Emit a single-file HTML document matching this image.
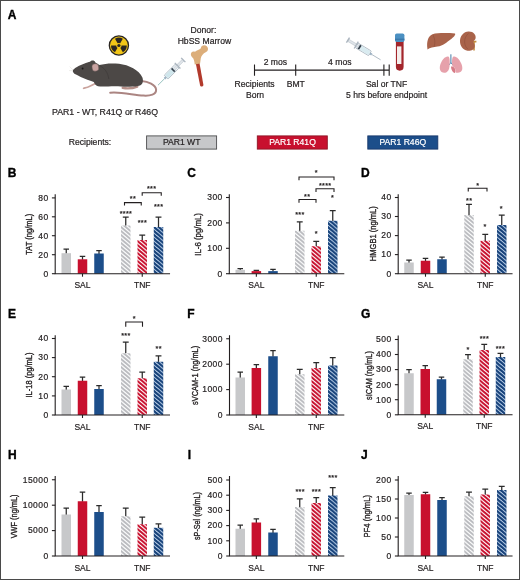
<!DOCTYPE html>
<html lang="en"><head><meta charset="utf-8"><title>Figure</title>
<style>html,body{margin:0;padding:0;background:#fff}svg{display:block;font-family:"Liberation Sans",Arial,Helvetica,sans-serif}</style>
</head><body>
<svg width="520" height="580" viewBox="0 0 520 580">
<defs>
<pattern id="hg" patternUnits="userSpaceOnUse" width="4.7" height="4.0"><rect width="4.7" height="4.0" fill="#ffffff"/><path d="M-4.7 -4.0L9.4 8.0M-4.7 0L4.7 8.0M0 -4.0L9.4 4.0M-4.7 -8.0L9.4 4.0M-4.7 4.0L4.7 12.0" stroke="#babbbf" stroke-width="1.85"/></pattern>
<pattern id="hr" patternUnits="userSpaceOnUse" width="4.7" height="4.0"><rect width="4.7" height="4.0" fill="#ffffff"/><path d="M-4.7 -4.0L9.4 8.0M-4.7 0L4.7 8.0M0 -4.0L9.4 4.0M-4.7 -8.0L9.4 4.0M-4.7 4.0L4.7 12.0" stroke="#c8102e" stroke-width="2.0"/></pattern>
<pattern id="hb" patternUnits="userSpaceOnUse" width="4.7" height="4.0"><rect width="4.7" height="4.0" fill="#d4e6fb"/><path d="M-4.7 -4.0L9.4 8.0M-4.7 0L4.7 8.0M0 -4.0L9.4 4.0M-4.7 -8.0L9.4 4.0M-4.7 4.0L4.7 12.0" stroke="#17427a" stroke-width="2.15"/></pattern>
</defs>
<rect x="0" y="0" width="520" height="580" fill="#fff"/>
<text x="7.70" y="18.80" font-size="12" text-anchor="start" font-weight="bold" fill="#000"  stroke="#000" stroke-width="0.35">A</text>
<g id="radiation">
<circle cx="118.9" cy="45.5" r="9.6" fill="#f2c617" stroke="#2a2622" stroke-width="1.3"/>
<g fill="#2a2622" transform="translate(118.9 45.5)">
<path d="M0 0L3.95 -6.84A7.9 7.9 0 0 0 -3.95 -6.84Z"/>
<path d="M0 0L3.95 -6.84A7.9 7.9 0 0 0 -3.95 -6.84Z" transform="rotate(120)"/>
<path d="M0 0L3.95 -6.84A7.9 7.9 0 0 0 -3.95 -6.84Z" transform="rotate(240)"/>
<circle r="2.6" fill="#f2c617"/><circle r="1.6"/>
</g></g>
<g id="mouse">
<path d="M141.5 81C148 81.5 155.6 84.5 156.1 89.6C156.5 94.6 150 96 143.5 95.6C133 95 121 91.6 110.2 92.7" fill="none" stroke="#ab8582" stroke-width="2" stroke-linecap="round"/>
<path d="M95.5 83.5C92.5 85 90 86.6 87.6 87.3C86 87.8 84.6 88 83.6 88.3" fill="none" stroke="#caa39d" stroke-width="1.7" stroke-linecap="round"/>
<path d="M122.6 87.9C127 88.7 133 88.3 137.4 86.6" fill="none" stroke="#b58f88" stroke-width="2.2" stroke-linecap="round"/>
<path d="M72.9 70.4C74 68.2 79 65.6 84 63.8C86.5 62.9 88.5 62.2 90 61.8C91.5 59.8 94.6 60 95.4 62.4L99.4 65C105 63.4 112 63 119 63.8C129 65 139 70 142.4 77.5C143.6 81 142.8 84.4 140 85.6C135 87.3 126 86.8 118 86.2C110 85.8 103 87.2 98 86.2C95.5 85.6 94.6 83.6 93.8 82C89 80.6 81 77.6 76 74.6C73.6 73.2 72.4 71.8 72.9 70.4Z" fill="#4c4846"/>
<path d="M99.5 65.5C104.5 68 108 72.5 108.8 79" fill="none" stroke="#3f3b3a" stroke-width="0.8"/>
<rect x="92.1" y="63.8" width="6.5" height="7.3" rx="2.6" fill="#c9a3a1" stroke="#6a5a58" stroke-width="0.5" transform="rotate(-8 95.3 67.5)"/>
<circle cx="82.6" cy="68.5" r="0.95" fill="#1a1a1a"/>
<path d="M73 70L69.6 66.6M73 70.6L69 70.6" stroke="#d9d4d0" stroke-width="0.4"/>
</g>
<g id="syringe1" transform="translate(158 85.2) rotate(-44.9)">
<path d="M0 0H9.5" stroke="#6fa9a6" stroke-width="0.7"/>
<rect x="9.3" y="-1.1" width="2.2" height="2.2" fill="#9fb4c6"/>
<rect x="11.4" y="-2.7" width="15.6" height="5.4" rx="0.8" fill="#f1f5f8" stroke="#93a1ad" stroke-width="0.6"/>
<rect x="12" y="-2.1" width="8.6" height="4.2" fill="#cfe6ec"/>
<rect x="20.6" y="-2.3" width="1.8" height="4.6" fill="#34414d"/>
<rect x="22.4" y="-1.2" width="13" height="2.4" fill="#dfe4e9" stroke="#aab4be" stroke-width="0.4"/>
<rect x="27" y="-4" width="1.3" height="8" fill="#aab4be"/>
<rect x="35" y="-3" width="1.4" height="6" fill="#aab4be"/>
</g>
<g id="bone">
<path d="M195.6 62.6L199.2 61.6L203.4 84.8C203.7 86.6 200.6 87.4 200.1 85.6Z" fill="#b23a2c"/>
<path d="M190.9 55C190.4 52.4 192.8 50.6 195 51.8C196.8 50.4 199.4 49.6 200.9 48.3C200.9 45.4 204.6 44.2 206.8 46.2C208.9 48.2 208.1 51.4 205.7 52.2C203.2 53.2 201.5 55.6 200.8 58.2L200.1 63.4L194.7 64.6C194.5 61.2 193.8 58.8 192.4 57.6C191.5 56.8 191.1 56 190.9 55Z" fill="#dcae7a"/>
</g>
<g id="timeline" stroke="#231f20" stroke-width="1.1" fill="none">
<path d="M254.5 70.1H389.2M254.5 64.4V75.7M295.7 64.4V75.7M383.9 64.4V75.7M389.2 64.4V75.7"/>
</g>
<g id="syringe2" transform="translate(380.6 59.8) rotate(-148.9)">
<path d="M0 0H10.5" stroke="#8a9aa8" stroke-width="0.6"/>
<rect x="10.3" y="-1.1" width="2.2" height="2.2" fill="#9fb4c6"/>
<rect x="12.4" y="-2.7" width="15.4" height="5.4" rx="0.8" fill="#f1f5f8" stroke="#93a1ad" stroke-width="0.6"/>
<rect x="13" y="-2.1" width="10.6" height="4.2" fill="#d9ebf0"/>
<rect x="23.6" y="-2.3" width="1.9" height="4.6" fill="#2c3843"/>
<rect x="25.5" y="-1.2" width="12" height="2.4" fill="#dfe4e9" stroke="#aab4be" stroke-width="0.4"/>
<rect x="27.8" y="-4" width="1.3" height="8" fill="#aab4be"/>
<rect x="37.4" y="-3" width="1.4" height="6" fill="#aab4be"/>
</g>
<g id="tube">
<path d="M395.9 41H403.6V66.8A3.85 3.85 0 0 1 395.9 66.8Z" fill="#a3262c"/>
<rect x="397" y="46.4" width="4.4" height="17.6" fill="#f4eeec"/>
<rect x="395" y="33.5" width="9.4" height="8.4" rx="1.7" fill="#4b90c2"/>
<rect x="395" y="38.6" width="9.4" height="1.5" fill="#3a79ab"/>
</g>
<g id="liver">
<path d="M427.4 48.5C426.6 42.5 427.6 36.2 432.5 34.2C438 32.6 448 33 455 33.4C456 34.6 453.5 37.2 450.5 39.4C447 42 443 45.8 437.5 46.6C433.5 47.2 430 47.6 427.4 49.6Z" fill="#a9634a"/>
<path d="M433 35C435 39 435.5 43 434 46.8" stroke="#8f4f3a" stroke-width="0.6" fill="none"/>
</g>
<g id="kidney">
<path d="M472.6 40.8H476.4V42.6H474.8V50.5H473.2V42.6H472.6Z" fill="#c48d3f"/>
<path d="M468.5 31.6C473.5 31.4 476.2 35 475.6 38.2C475.2 40 473.4 40.4 473.4 41.8C473.4 43.2 475 44 474.8 46C474.4 49.6 471 51.2 467.6 50.8C462.6 50.2 459.8 45.6 460 40.8C460.2 36 463.6 31.8 468.5 31.6Z" fill="#a9634a"/>
<path d="M468.5 33.4C466 35.6 464.5 38.5 464.6 42C464.7 45 466 47.6 468 49.2" stroke="#94523c" stroke-width="0.7" fill="none"/>
</g>
<g id="lungs">
<path d="M450.9 54.3V62.5M450.9 62.5L448.8 65.2M450.9 62.5L453 65.2" stroke="#2f6d9c" stroke-width="0.9" fill="none"/>
<path d="M448.2 56.6C449.6 57 449.8 60 449.7 63.5C449.6 67.6 449.2 70.6 446.6 72.2C444 73.6 440.8 72.6 440 69.6C439.2 66 441.2 61.6 443.6 58.8C445 57.2 446.8 56.2 448.2 56.6Z" fill="#e6a1ab"/>
<path d="M453.6 56.6C452.2 57 452 60 452.1 63.5C452.2 65.5 452.3 66.3 453.2 66.8C455 67.6 456 69.8 455.6 72.4C458 73.4 461.4 72.6 462.2 69.6C463 66 460.6 61.6 458.2 58.8C456.8 57.2 455 56.2 453.6 56.6Z" fill="#e6a1ab"/>
<path d="M451 66.6C453.4 66.2 455.6 68.4 455.4 71.2C455.3 72.4 454.8 73 454.2 73C452 71.6 451 69 451 66.6Z" fill="#d77b86"/>
</g>
<g id="atext" font-size="8.6" fill="#231f20" stroke="#231f20" stroke-width="0.2" text-anchor="middle">
<text x="105" y="114.6" textLength="106" lengthAdjust="spacingAndGlyphs">PAR1 - WT, R41Q or R46Q</text>
<text x="203.4" y="33">Donor:</text>
<text x="204.4" y="43.8">HbSS Marrow</text>
<text x="275.4" y="65">2 mos</text>
<text x="339.8" y="65">4 mos</text>
<text x="254.6" y="87.1">Recipients</text>
<text x="255" y="98">Born</text>
<text x="295.8" y="87.1">BMT</text>
<text x="386.6" y="87.1">Sal or TNF</text>
<text x="386.6" y="98.2">5 hrs before endpoint</text>
<text x="90" y="144.6">Recipients:</text>
</g>
<g id="legend" font-size="8.6" text-anchor="middle">
<rect x="146.6" y="135.9" width="70" height="13.2" fill="#c7c8ca" stroke="#4d4d4f" stroke-width="0.9"/>
<text x="181.7" y="145.3" fill="#231f20" stroke="#231f20" stroke-width="0.2">PAR1 WT</text>
<rect x="257.3" y="135.9" width="70" height="13.2" fill="#c8102e" stroke="#8e1525" stroke-width="0.9"/>
<text x="292.5" y="145.3" fill="#ffffff" stroke="#ffffff" stroke-width="0.2">PAR1 R41Q</text>
<rect x="367.8" y="135.9" width="70" height="13.2" fill="#1c4e8a" stroke="#17376a" stroke-width="0.9"/>
<text x="402.8" y="145.3" fill="#ffffff" stroke="#ffffff" stroke-width="0.2">PAR1 R46Q</text>
</g>

<text x="7.70" y="177.00" font-size="12" text-anchor="start" font-weight="bold" fill="#000"  stroke="#000" stroke-width="0.35">B</text>
<path d="M66.25 253.70V249.00M63.50 249.00H69.00" stroke="#2b2b2b" stroke-width="1.25" fill="none"/>
<rect x="61.50" y="253.20" width="9.5" height="20.50" fill="#c7c8ca"/>
<path d="M82.50 259.80V256.30M79.75 256.30H85.25" stroke="#2b2b2b" stroke-width="1.25" fill="none"/>
<rect x="77.75" y="259.30" width="9.5" height="14.40" fill="#c8102e"/>
<path d="M99.00 254.00V250.60M96.25 250.60H101.75" stroke="#2b2b2b" stroke-width="1.25" fill="none"/>
<rect x="94.25" y="253.50" width="9.5" height="20.20" fill="#1c4e8a"/>
<path d="M125.75 226.00V217.00M122.80 217.00H128.70" stroke="#2b2b2b" stroke-width="1.25" fill="none"/>
<rect x="121.00" y="225.50" width="9.5" height="48.20" fill="url(#hg)"/>
<path d="M142.25 240.50V235.00M139.30 235.00H145.20" stroke="#2b2b2b" stroke-width="1.25" fill="none"/>
<rect x="137.50" y="240.00" width="9.5" height="33.70" fill="url(#hr)"/>
<path d="M158.50 227.50V217.00M155.55 217.00H161.45" stroke="#2b2b2b" stroke-width="1.25" fill="none"/>
<rect x="153.75" y="227.00" width="9.5" height="46.70" fill="url(#hb)"/>
<path d="M55.20 194.80V273.70H169.50" stroke="#231f20" stroke-width="1.1" fill="none" stroke-linecap="square"/>
<path d="M51.90 197.90H55.20" stroke="#231f20" stroke-width="1.1"/>
<text x="48.65" y="200.75" font-size="8.5" text-anchor="end" font-weight="normal" fill="#231f20" stroke="#231f20" stroke-width="0.2" letter-spacing="0.45">80</text>
<path d="M51.90 216.80H55.20" stroke="#231f20" stroke-width="1.1"/>
<text x="48.65" y="219.65" font-size="8.5" text-anchor="end" font-weight="normal" fill="#231f20" stroke="#231f20" stroke-width="0.2" letter-spacing="0.45">60</text>
<path d="M51.90 235.70H55.20" stroke="#231f20" stroke-width="1.1"/>
<text x="48.65" y="238.55" font-size="8.5" text-anchor="end" font-weight="normal" fill="#231f20" stroke="#231f20" stroke-width="0.2" letter-spacing="0.45">40</text>
<path d="M51.90 254.70H55.20" stroke="#231f20" stroke-width="1.1"/>
<text x="48.65" y="257.55" font-size="8.5" text-anchor="end" font-weight="normal" fill="#231f20" stroke="#231f20" stroke-width="0.2" letter-spacing="0.45">20</text>
<path d="M51.90 273.70H55.20" stroke="#231f20" stroke-width="1.1"/>
<text x="48.65" y="276.55" font-size="8.5" text-anchor="end" font-weight="normal" fill="#231f20" stroke="#231f20" stroke-width="0.2" letter-spacing="0.45">0</text>
<path d="M82.50 273.70V276.70" stroke="#231f20" stroke-width="1.1"/>
<text x="82.50" y="288.00" font-size="8.5" text-anchor="middle" font-weight="normal" fill="#231f20" stroke="#231f20" stroke-width="0.2" >SAL</text>
<path d="M142.25 273.70V276.70" stroke="#231f20" stroke-width="1.1"/>
<text x="142.25" y="288.00" font-size="8.5" text-anchor="middle" font-weight="normal" fill="#231f20" stroke="#231f20" stroke-width="0.2" >TNF</text>
<text transform="translate(31.70 234.20) rotate(-90)" font-size="9.9" text-anchor="middle" fill="#231f20" textLength="41.0" lengthAdjust="spacingAndGlyphs" stroke="#231f20" stroke-width="0.35">TAT (ng/mL)</text>
<text x="125.95" y="215.80" font-size="7.2" text-anchor="middle" font-weight="bold" fill="#231f20"  stroke="#231f20" stroke-width="0.12" letter-spacing="0.35">****</text>
<text x="142.45" y="225.30" font-size="7.2" text-anchor="middle" font-weight="bold" fill="#231f20"  stroke="#231f20" stroke-width="0.12" letter-spacing="0.35">***</text>
<text x="158.70" y="209.05" font-size="7.2" text-anchor="middle" font-weight="bold" fill="#231f20"  stroke="#231f20" stroke-width="0.12" letter-spacing="0.35">***</text>
<text x="132.95" y="200.80" font-size="7.2" text-anchor="middle" font-weight="bold" fill="#231f20"  stroke="#231f20" stroke-width="0.12" letter-spacing="0.35">**</text>
<text x="151.70" y="190.80" font-size="7.2" text-anchor="middle" font-weight="bold" fill="#231f20"  stroke="#231f20" stroke-width="0.12" letter-spacing="0.35">***</text>
<path d="M124.50 205.60V202.60H141.25V205.60" stroke="#231f20" stroke-width="1.1" fill="none"/>
<path d="M142.20 195.80V192.80H161.25V195.80" stroke="#231f20" stroke-width="1.1" fill="none"/>
<text x="187.20" y="177.00" font-size="12" text-anchor="start" font-weight="bold" fill="#000"  stroke="#000" stroke-width="0.35">C</text>
<path d="M240.25 270.30V268.60M237.50 268.60H243.00" stroke="#2b2b2b" stroke-width="1.25" fill="none"/>
<rect x="235.50" y="269.80" width="9.5" height="3.90" fill="#c7c8ca"/>
<path d="M256.35 271.60V270.40M253.60 270.40H259.10" stroke="#2b2b2b" stroke-width="1.25" fill="none"/>
<rect x="251.60" y="271.10" width="9.5" height="2.60" fill="#c8102e"/>
<path d="M273.00 271.60V269.40M270.25 269.40H275.75" stroke="#2b2b2b" stroke-width="1.25" fill="none"/>
<rect x="268.25" y="271.10" width="9.5" height="2.60" fill="#1c4e8a"/>
<path d="M299.75 231.25V221.75M296.80 221.75H302.70" stroke="#2b2b2b" stroke-width="1.25" fill="none"/>
<rect x="295.00" y="230.75" width="9.5" height="42.95" fill="url(#hg)"/>
<path d="M316.25 246.75V241.25M313.30 241.25H319.20" stroke="#2b2b2b" stroke-width="1.25" fill="none"/>
<rect x="311.50" y="246.25" width="9.5" height="27.45" fill="url(#hr)"/>
<path d="M332.75 221.25V210.50M329.80 210.50H335.70" stroke="#2b2b2b" stroke-width="1.25" fill="none"/>
<rect x="328.00" y="220.75" width="9.5" height="52.95" fill="url(#hb)"/>
<path d="M229.30 194.80V273.70H343.75" stroke="#231f20" stroke-width="1.1" fill="none" stroke-linecap="square"/>
<path d="M226.00 197.50H229.30" stroke="#231f20" stroke-width="1.1"/>
<text x="222.75" y="200.35" font-size="8.5" text-anchor="end" font-weight="normal" fill="#231f20" stroke="#231f20" stroke-width="0.2" letter-spacing="0.45">300</text>
<path d="M226.00 222.90H229.30" stroke="#231f20" stroke-width="1.1"/>
<text x="222.75" y="225.75" font-size="8.5" text-anchor="end" font-weight="normal" fill="#231f20" stroke="#231f20" stroke-width="0.2" letter-spacing="0.45">200</text>
<path d="M226.00 248.30H229.30" stroke="#231f20" stroke-width="1.1"/>
<text x="222.75" y="251.15" font-size="8.5" text-anchor="end" font-weight="normal" fill="#231f20" stroke="#231f20" stroke-width="0.2" letter-spacing="0.45">100</text>
<path d="M226.00 273.70H229.30" stroke="#231f20" stroke-width="1.1"/>
<text x="222.75" y="276.55" font-size="8.5" text-anchor="end" font-weight="normal" fill="#231f20" stroke="#231f20" stroke-width="0.2" letter-spacing="0.45">0</text>
<path d="M256.35 273.70V276.70" stroke="#231f20" stroke-width="1.1"/>
<text x="256.35" y="288.00" font-size="8.5" text-anchor="middle" font-weight="normal" fill="#231f20" stroke="#231f20" stroke-width="0.2" >SAL</text>
<path d="M316.25 273.70V276.70" stroke="#231f20" stroke-width="1.1"/>
<text x="316.25" y="288.00" font-size="8.5" text-anchor="middle" font-weight="normal" fill="#231f20" stroke="#231f20" stroke-width="0.2" >TNF</text>
<text transform="translate(200.70 234.40) rotate(-90)" font-size="9.9" text-anchor="middle" fill="#231f20" textLength="42.5" lengthAdjust="spacingAndGlyphs" stroke="#231f20" stroke-width="0.35">IL-6 (pg/mL)</text>
<text x="316.45" y="175.30" font-size="7.2" text-anchor="middle" font-weight="bold" fill="#231f20"  stroke="#231f20" stroke-width="0.12" letter-spacing="0.35">*</text>
<text x="325.20" y="187.55" font-size="7.2" text-anchor="middle" font-weight="bold" fill="#231f20"  stroke="#231f20" stroke-width="0.12" letter-spacing="0.35">****</text>
<text x="307.20" y="198.55" font-size="7.2" text-anchor="middle" font-weight="bold" fill="#231f20"  stroke="#231f20" stroke-width="0.12" letter-spacing="0.35">**</text>
<text x="332.70" y="200.30" font-size="7.2" text-anchor="middle" font-weight="bold" fill="#231f20"  stroke="#231f20" stroke-width="0.12" letter-spacing="0.35">*</text>
<text x="299.95" y="217.05" font-size="7.2" text-anchor="middle" font-weight="bold" fill="#231f20"  stroke="#231f20" stroke-width="0.12" letter-spacing="0.35">***</text>
<text x="316.45" y="236.30" font-size="7.2" text-anchor="middle" font-weight="bold" fill="#231f20"  stroke="#231f20" stroke-width="0.12" letter-spacing="0.35">*</text>
<path d="M299.00 180.20V177.00H334.00V180.20" stroke="#231f20" stroke-width="1.1" fill="none"/>
<path d="M316.00 191.90V188.75H334.00V191.90" stroke="#231f20" stroke-width="1.1" fill="none"/>
<path d="M299.00 202.70V199.50H316.00V202.70" stroke="#231f20" stroke-width="1.1" fill="none"/>
<text x="360.95" y="177.00" font-size="12" text-anchor="start" font-weight="bold" fill="#000"  stroke="#000" stroke-width="0.35">D</text>
<path d="M409.00 263.00V260.00M406.25 260.00H411.75" stroke="#2b2b2b" stroke-width="1.25" fill="none"/>
<rect x="404.25" y="262.50" width="9.5" height="11.20" fill="#c7c8ca"/>
<path d="M425.50 261.25V258.25M422.75 258.25H428.25" stroke="#2b2b2b" stroke-width="1.25" fill="none"/>
<rect x="420.75" y="260.75" width="9.5" height="12.95" fill="#c8102e"/>
<path d="M442.00 259.75V257.00M439.25 257.00H444.75" stroke="#2b2b2b" stroke-width="1.25" fill="none"/>
<rect x="437.25" y="259.25" width="9.5" height="14.45" fill="#1c4e8a"/>
<path d="M469.00 215.50V204.25M466.05 204.25H471.95" stroke="#2b2b2b" stroke-width="1.25" fill="none"/>
<rect x="464.25" y="215.00" width="9.5" height="58.70" fill="url(#hg)"/>
<path d="M485.25 241.25V234.25M482.30 234.25H488.20" stroke="#2b2b2b" stroke-width="1.25" fill="none"/>
<rect x="480.50" y="240.75" width="9.5" height="32.95" fill="url(#hr)"/>
<path d="M501.75 225.50V215.00M498.80 215.00H504.70" stroke="#2b2b2b" stroke-width="1.25" fill="none"/>
<rect x="497.00" y="225.00" width="9.5" height="48.70" fill="url(#hb)"/>
<path d="M398.20 194.80V273.70H512.00" stroke="#231f20" stroke-width="1.1" fill="none" stroke-linecap="square"/>
<path d="M394.90 197.50H398.20" stroke="#231f20" stroke-width="1.1"/>
<text x="391.65" y="200.35" font-size="8.5" text-anchor="end" font-weight="normal" fill="#231f20" stroke="#231f20" stroke-width="0.2" letter-spacing="0.45">40</text>
<path d="M394.90 216.50H398.20" stroke="#231f20" stroke-width="1.1"/>
<text x="391.65" y="219.35" font-size="8.5" text-anchor="end" font-weight="normal" fill="#231f20" stroke="#231f20" stroke-width="0.2" letter-spacing="0.45">30</text>
<path d="M394.90 235.60H398.20" stroke="#231f20" stroke-width="1.1"/>
<text x="391.65" y="238.45" font-size="8.5" text-anchor="end" font-weight="normal" fill="#231f20" stroke="#231f20" stroke-width="0.2" letter-spacing="0.45">20</text>
<path d="M394.90 254.60H398.20" stroke="#231f20" stroke-width="1.1"/>
<text x="391.65" y="257.45" font-size="8.5" text-anchor="end" font-weight="normal" fill="#231f20" stroke="#231f20" stroke-width="0.2" letter-spacing="0.45">10</text>
<path d="M394.90 273.70H398.20" stroke="#231f20" stroke-width="1.1"/>
<text x="391.65" y="276.55" font-size="8.5" text-anchor="end" font-weight="normal" fill="#231f20" stroke="#231f20" stroke-width="0.2" letter-spacing="0.45">0</text>
<path d="M425.50 273.70V276.70" stroke="#231f20" stroke-width="1.1"/>
<text x="425.50" y="288.00" font-size="8.5" text-anchor="middle" font-weight="normal" fill="#231f20" stroke="#231f20" stroke-width="0.2" >SAL</text>
<path d="M485.25 273.70V276.70" stroke="#231f20" stroke-width="1.1"/>
<text x="485.25" y="288.00" font-size="8.5" text-anchor="middle" font-weight="normal" fill="#231f20" stroke="#231f20" stroke-width="0.2" >TNF</text>
<text transform="translate(375.70 233.75) rotate(-90)" font-size="9.9" text-anchor="middle" fill="#231f20" textLength="55.0" lengthAdjust="spacingAndGlyphs" stroke="#231f20" stroke-width="0.35">HMGB1 (ng/mL)</text>
<text x="477.95" y="187.55" font-size="7.2" text-anchor="middle" font-weight="bold" fill="#231f20"  stroke="#231f20" stroke-width="0.12" letter-spacing="0.35">*</text>
<text x="469.20" y="202.80" font-size="7.2" text-anchor="middle" font-weight="bold" fill="#231f20"  stroke="#231f20" stroke-width="0.12" letter-spacing="0.35">**</text>
<text x="485.20" y="228.80" font-size="7.2" text-anchor="middle" font-weight="bold" fill="#231f20"  stroke="#231f20" stroke-width="0.12" letter-spacing="0.35">*</text>
<text x="501.45" y="210.80" font-size="7.2" text-anchor="middle" font-weight="bold" fill="#231f20"  stroke="#231f20" stroke-width="0.12" letter-spacing="0.35">*</text>
<path d="M468.25 191.60V188.25H487.00V191.60" stroke="#231f20" stroke-width="1.1" fill="none"/>
<text x="7.95" y="318.25" font-size="12" text-anchor="start" font-weight="bold" fill="#000"  stroke="#000" stroke-width="0.35">E</text>
<path d="M66.25 390.00V386.25M63.50 386.25H69.00" stroke="#2b2b2b" stroke-width="1.25" fill="none"/>
<rect x="61.50" y="389.50" width="9.5" height="25.50" fill="#c7c8ca"/>
<path d="M82.50 381.25V377.00M79.75 377.00H85.25" stroke="#2b2b2b" stroke-width="1.25" fill="none"/>
<rect x="77.75" y="380.75" width="9.5" height="34.25" fill="#c8102e"/>
<path d="M99.00 389.50V385.50M96.25 385.50H101.75" stroke="#2b2b2b" stroke-width="1.25" fill="none"/>
<rect x="94.25" y="389.00" width="9.5" height="26.00" fill="#1c4e8a"/>
<path d="M125.75 353.75V342.00M122.80 342.00H128.70" stroke="#2b2b2b" stroke-width="1.25" fill="none"/>
<rect x="121.00" y="353.25" width="9.5" height="61.75" fill="url(#hg)"/>
<path d="M142.25 378.75V372.00M139.30 372.00H145.20" stroke="#2b2b2b" stroke-width="1.25" fill="none"/>
<rect x="137.50" y="378.25" width="9.5" height="36.75" fill="url(#hr)"/>
<path d="M158.50 362.25V355.75M155.55 355.75H161.45" stroke="#2b2b2b" stroke-width="1.25" fill="none"/>
<rect x="153.75" y="361.75" width="9.5" height="53.25" fill="url(#hb)"/>
<path d="M55.20 335.80V415.00H169.50" stroke="#231f20" stroke-width="1.1" fill="none" stroke-linecap="square"/>
<path d="M51.90 338.50H55.20" stroke="#231f20" stroke-width="1.1"/>
<text x="48.65" y="341.35" font-size="8.5" text-anchor="end" font-weight="normal" fill="#231f20" stroke="#231f20" stroke-width="0.2" letter-spacing="0.45">40</text>
<path d="M51.90 357.60H55.20" stroke="#231f20" stroke-width="1.1"/>
<text x="48.65" y="360.45" font-size="8.5" text-anchor="end" font-weight="normal" fill="#231f20" stroke="#231f20" stroke-width="0.2" letter-spacing="0.45">30</text>
<path d="M51.90 376.70H55.20" stroke="#231f20" stroke-width="1.1"/>
<text x="48.65" y="379.55" font-size="8.5" text-anchor="end" font-weight="normal" fill="#231f20" stroke="#231f20" stroke-width="0.2" letter-spacing="0.45">20</text>
<path d="M51.90 395.90H55.20" stroke="#231f20" stroke-width="1.1"/>
<text x="48.65" y="398.75" font-size="8.5" text-anchor="end" font-weight="normal" fill="#231f20" stroke="#231f20" stroke-width="0.2" letter-spacing="0.45">10</text>
<path d="M51.90 415.00H55.20" stroke="#231f20" stroke-width="1.1"/>
<text x="48.65" y="417.85" font-size="8.5" text-anchor="end" font-weight="normal" fill="#231f20" stroke="#231f20" stroke-width="0.2" letter-spacing="0.45">0</text>
<path d="M82.50 415.00V418.00" stroke="#231f20" stroke-width="1.1"/>
<text x="82.50" y="429.60" font-size="8.5" text-anchor="middle" font-weight="normal" fill="#231f20" stroke="#231f20" stroke-width="0.2" >SAL</text>
<path d="M142.25 415.00V418.00" stroke="#231f20" stroke-width="1.1"/>
<text x="142.25" y="429.60" font-size="8.5" text-anchor="middle" font-weight="normal" fill="#231f20" stroke="#231f20" stroke-width="0.2" >TNF</text>
<text transform="translate(31.70 375.00) rotate(-90)" font-size="9.9" text-anchor="middle" fill="#231f20" textLength="45.0" lengthAdjust="spacingAndGlyphs" stroke="#231f20" stroke-width="0.35">IL-18 (pg/mL)</text>
<text x="134.45" y="321.30" font-size="7.2" text-anchor="middle" font-weight="bold" fill="#231f20"  stroke="#231f20" stroke-width="0.12" letter-spacing="0.35">*</text>
<text x="125.95" y="338.30" font-size="7.2" text-anchor="middle" font-weight="bold" fill="#231f20"  stroke="#231f20" stroke-width="0.12" letter-spacing="0.35">***</text>
<text x="158.70" y="351.30" font-size="7.2" text-anchor="middle" font-weight="bold" fill="#231f20"  stroke="#231f20" stroke-width="0.12" letter-spacing="0.35">**</text>
<path d="M125.75 326.80V322.00H142.50V326.80" stroke="#231f20" stroke-width="1.1" fill="none"/>
<text x="187.20" y="318.25" font-size="12" text-anchor="start" font-weight="bold" fill="#000"  stroke="#000" stroke-width="0.35">F</text>
<path d="M240.25 378.00V372.00M237.50 372.00H243.00" stroke="#2b2b2b" stroke-width="1.25" fill="none"/>
<rect x="235.50" y="377.50" width="9.5" height="37.50" fill="#c7c8ca"/>
<path d="M256.35 368.50V364.50M253.60 364.50H259.10" stroke="#2b2b2b" stroke-width="1.25" fill="none"/>
<rect x="251.60" y="368.00" width="9.5" height="47.00" fill="#c8102e"/>
<path d="M273.00 356.75V350.50M270.25 350.50H275.75" stroke="#2b2b2b" stroke-width="1.25" fill="none"/>
<rect x="268.25" y="356.25" width="9.5" height="58.75" fill="#1c4e8a"/>
<path d="M299.75 374.75V369.25M296.80 369.25H302.70" stroke="#2b2b2b" stroke-width="1.25" fill="none"/>
<rect x="295.00" y="374.25" width="9.5" height="40.75" fill="url(#hg)"/>
<path d="M316.25 368.50V362.50M313.30 362.50H319.20" stroke="#2b2b2b" stroke-width="1.25" fill="none"/>
<rect x="311.50" y="368.00" width="9.5" height="47.00" fill="url(#hr)"/>
<path d="M332.75 366.00V357.50M329.80 357.50H335.70" stroke="#2b2b2b" stroke-width="1.25" fill="none"/>
<rect x="328.00" y="365.50" width="9.5" height="49.50" fill="url(#hb)"/>
<path d="M229.50 335.80V415.00H343.75" stroke="#231f20" stroke-width="1.1" fill="none" stroke-linecap="square"/>
<path d="M226.20 338.75H229.50" stroke="#231f20" stroke-width="1.1"/>
<text x="222.95" y="341.60" font-size="8.5" text-anchor="end" font-weight="normal" fill="#231f20" stroke="#231f20" stroke-width="0.2" letter-spacing="0.45">3000</text>
<path d="M226.20 364.20H229.50" stroke="#231f20" stroke-width="1.1"/>
<text x="222.95" y="367.05" font-size="8.5" text-anchor="end" font-weight="normal" fill="#231f20" stroke="#231f20" stroke-width="0.2" letter-spacing="0.45">2000</text>
<path d="M226.20 389.60H229.50" stroke="#231f20" stroke-width="1.1"/>
<text x="222.95" y="392.45" font-size="8.5" text-anchor="end" font-weight="normal" fill="#231f20" stroke="#231f20" stroke-width="0.2" letter-spacing="0.45">1000</text>
<path d="M226.20 415.00H229.50" stroke="#231f20" stroke-width="1.1"/>
<text x="222.95" y="417.85" font-size="8.5" text-anchor="end" font-weight="normal" fill="#231f20" stroke="#231f20" stroke-width="0.2" letter-spacing="0.45">0</text>
<path d="M256.35 415.00V418.00" stroke="#231f20" stroke-width="1.1"/>
<text x="256.35" y="429.60" font-size="8.5" text-anchor="middle" font-weight="normal" fill="#231f20" stroke="#231f20" stroke-width="0.2" >SAL</text>
<path d="M316.25 415.00V418.00" stroke="#231f20" stroke-width="1.1"/>
<text x="316.25" y="429.60" font-size="8.5" text-anchor="middle" font-weight="normal" fill="#231f20" stroke="#231f20" stroke-width="0.2" >TNF</text>
<text transform="translate(197.70 375.40) rotate(-90)" font-size="9.9" text-anchor="middle" fill="#231f20" textLength="59.0" lengthAdjust="spacingAndGlyphs" stroke="#231f20" stroke-width="0.35">sVCAM-1 (ng/mL)</text>
<text x="360.95" y="318.25" font-size="12" text-anchor="start" font-weight="bold" fill="#000"  stroke="#000" stroke-width="0.35">G</text>
<path d="M409.00 373.75V369.50M406.25 369.50H411.75" stroke="#2b2b2b" stroke-width="1.25" fill="none"/>
<rect x="404.25" y="373.25" width="9.5" height="41.55" fill="#c7c8ca"/>
<path d="M425.25 369.50V365.50M422.50 365.50H428.00" stroke="#2b2b2b" stroke-width="1.25" fill="none"/>
<rect x="420.50" y="369.00" width="9.5" height="45.80" fill="#c8102e"/>
<path d="M441.50 379.75V377.00M438.75 377.00H444.25" stroke="#2b2b2b" stroke-width="1.25" fill="none"/>
<rect x="436.75" y="379.25" width="9.5" height="35.55" fill="#1c4e8a"/>
<path d="M468.00 359.75V354.50M465.05 354.50H470.95" stroke="#2b2b2b" stroke-width="1.25" fill="none"/>
<rect x="463.25" y="359.25" width="9.5" height="55.55" fill="url(#hg)"/>
<path d="M484.25 350.50V344.25M481.30 344.25H487.20" stroke="#2b2b2b" stroke-width="1.25" fill="none"/>
<rect x="479.50" y="350.00" width="9.5" height="64.80" fill="url(#hr)"/>
<path d="M500.50 357.50V353.25M497.55 353.25H503.45" stroke="#2b2b2b" stroke-width="1.25" fill="none"/>
<rect x="495.75" y="357.00" width="9.5" height="57.80" fill="url(#hb)"/>
<path d="M398.20 336.00V414.80H512.00" stroke="#231f20" stroke-width="1.1" fill="none" stroke-linecap="square"/>
<path d="M394.90 339.50H398.20" stroke="#231f20" stroke-width="1.1"/>
<text x="391.65" y="342.35" font-size="8.5" text-anchor="end" font-weight="normal" fill="#231f20" stroke="#231f20" stroke-width="0.2" letter-spacing="0.45">500</text>
<path d="M394.90 354.50H398.20" stroke="#231f20" stroke-width="1.1"/>
<text x="391.65" y="357.35" font-size="8.5" text-anchor="end" font-weight="normal" fill="#231f20" stroke="#231f20" stroke-width="0.2" letter-spacing="0.45">400</text>
<path d="M394.90 369.60H398.20" stroke="#231f20" stroke-width="1.1"/>
<text x="391.65" y="372.45" font-size="8.5" text-anchor="end" font-weight="normal" fill="#231f20" stroke="#231f20" stroke-width="0.2" letter-spacing="0.45">300</text>
<path d="M394.90 384.70H398.20" stroke="#231f20" stroke-width="1.1"/>
<text x="391.65" y="387.55" font-size="8.5" text-anchor="end" font-weight="normal" fill="#231f20" stroke="#231f20" stroke-width="0.2" letter-spacing="0.45">200</text>
<path d="M394.90 399.70H398.20" stroke="#231f20" stroke-width="1.1"/>
<text x="391.65" y="402.55" font-size="8.5" text-anchor="end" font-weight="normal" fill="#231f20" stroke="#231f20" stroke-width="0.2" letter-spacing="0.45">100</text>
<path d="M394.90 414.80H398.20" stroke="#231f20" stroke-width="1.1"/>
<text x="391.65" y="417.65" font-size="8.5" text-anchor="end" font-weight="normal" fill="#231f20" stroke="#231f20" stroke-width="0.2" letter-spacing="0.45">0</text>
<path d="M425.25 414.80V417.80" stroke="#231f20" stroke-width="1.1"/>
<text x="425.25" y="429.40" font-size="8.5" text-anchor="middle" font-weight="normal" fill="#231f20" stroke="#231f20" stroke-width="0.2" >SAL</text>
<path d="M484.25 414.80V417.80" stroke="#231f20" stroke-width="1.1"/>
<text x="484.25" y="429.40" font-size="8.5" text-anchor="middle" font-weight="normal" fill="#231f20" stroke="#231f20" stroke-width="0.2" >TNF</text>
<text transform="translate(372.20 375.60) rotate(-90)" font-size="9.9" text-anchor="middle" fill="#231f20" textLength="48.8" lengthAdjust="spacingAndGlyphs" stroke="#231f20" stroke-width="0.35">sICAM (ng/mL)</text>
<text x="468.20" y="351.55" font-size="7.2" text-anchor="middle" font-weight="bold" fill="#231f20"  stroke="#231f20" stroke-width="0.12" letter-spacing="0.35">*</text>
<text x="484.45" y="340.80" font-size="7.2" text-anchor="middle" font-weight="bold" fill="#231f20"  stroke="#231f20" stroke-width="0.12" letter-spacing="0.35">***</text>
<text x="500.45" y="350.55" font-size="7.2" text-anchor="middle" font-weight="bold" fill="#231f20"  stroke="#231f20" stroke-width="0.12" letter-spacing="0.35">***</text>
<text x="7.95" y="459.25" font-size="12" text-anchor="start" font-weight="bold" fill="#000"  stroke="#000" stroke-width="0.35">H</text>
<path d="M66.25 515.00V508.00M63.50 508.00H69.00" stroke="#2b2b2b" stroke-width="1.25" fill="none"/>
<rect x="61.50" y="514.50" width="9.5" height="41.50" fill="#c7c8ca"/>
<path d="M82.50 501.75V492.00M79.75 492.00H85.25" stroke="#2b2b2b" stroke-width="1.25" fill="none"/>
<rect x="77.75" y="501.25" width="9.5" height="54.75" fill="#c8102e"/>
<path d="M99.00 512.50V505.50M96.25 505.50H101.75" stroke="#2b2b2b" stroke-width="1.25" fill="none"/>
<rect x="94.25" y="512.00" width="9.5" height="44.00" fill="#1c4e8a"/>
<path d="M125.75 516.75V508.00M122.80 508.00H128.70" stroke="#2b2b2b" stroke-width="1.25" fill="none"/>
<rect x="121.00" y="516.25" width="9.5" height="39.75" fill="url(#hg)"/>
<path d="M142.25 524.75V517.00M139.30 517.00H145.20" stroke="#2b2b2b" stroke-width="1.25" fill="none"/>
<rect x="137.50" y="524.25" width="9.5" height="31.75" fill="url(#hr)"/>
<path d="M158.50 528.25V523.75M155.55 523.75H161.45" stroke="#2b2b2b" stroke-width="1.25" fill="none"/>
<rect x="153.75" y="527.75" width="9.5" height="28.25" fill="url(#hb)"/>
<path d="M55.20 476.50V556.00H169.50" stroke="#231f20" stroke-width="1.1" fill="none" stroke-linecap="square"/>
<path d="M51.90 479.75H55.20" stroke="#231f20" stroke-width="1.1"/>
<text x="48.65" y="482.60" font-size="8.5" text-anchor="end" font-weight="normal" fill="#231f20" stroke="#231f20" stroke-width="0.2" letter-spacing="0.45">15000</text>
<path d="M51.90 505.20H55.20" stroke="#231f20" stroke-width="1.1"/>
<text x="48.65" y="508.05" font-size="8.5" text-anchor="end" font-weight="normal" fill="#231f20" stroke="#231f20" stroke-width="0.2" letter-spacing="0.45">10000</text>
<path d="M51.90 530.60H55.20" stroke="#231f20" stroke-width="1.1"/>
<text x="48.65" y="533.45" font-size="8.5" text-anchor="end" font-weight="normal" fill="#231f20" stroke="#231f20" stroke-width="0.2" letter-spacing="0.45">5000</text>
<path d="M51.90 556.00H55.20" stroke="#231f20" stroke-width="1.1"/>
<text x="48.65" y="558.85" font-size="8.5" text-anchor="end" font-weight="normal" fill="#231f20" stroke="#231f20" stroke-width="0.2" letter-spacing="0.45">0</text>
<path d="M82.50 556.00V559.00" stroke="#231f20" stroke-width="1.1"/>
<text x="82.50" y="570.60" font-size="8.5" text-anchor="middle" font-weight="normal" fill="#231f20" stroke="#231f20" stroke-width="0.2" >SAL</text>
<path d="M142.25 556.00V559.00" stroke="#231f20" stroke-width="1.1"/>
<text x="142.25" y="570.60" font-size="8.5" text-anchor="middle" font-weight="normal" fill="#231f20" stroke="#231f20" stroke-width="0.2" >TNF</text>
<text transform="translate(16.70 516.40) rotate(-90)" font-size="9.9" text-anchor="middle" fill="#231f20" textLength="43.8" lengthAdjust="spacingAndGlyphs" stroke="#231f20" stroke-width="0.35">VWF (ng/mL)</text>
<text x="187.70" y="459.25" font-size="12" text-anchor="start" font-weight="bold" fill="#000"  stroke="#000" stroke-width="0.35">I</text>
<path d="M240.25 529.25V525.00M237.50 525.00H243.00" stroke="#2b2b2b" stroke-width="1.25" fill="none"/>
<rect x="235.50" y="528.75" width="9.5" height="27.25" fill="#c7c8ca"/>
<path d="M256.35 523.00V518.75M253.60 518.75H259.10" stroke="#2b2b2b" stroke-width="1.25" fill="none"/>
<rect x="251.60" y="522.50" width="9.5" height="33.50" fill="#c8102e"/>
<path d="M273.00 533.00V529.25M270.25 529.25H275.75" stroke="#2b2b2b" stroke-width="1.25" fill="none"/>
<rect x="268.25" y="532.50" width="9.5" height="23.50" fill="#1c4e8a"/>
<path d="M299.75 507.50V498.75M296.80 498.75H302.70" stroke="#2b2b2b" stroke-width="1.25" fill="none"/>
<rect x="295.00" y="507.00" width="9.5" height="49.00" fill="url(#hg)"/>
<path d="M316.25 503.50V497.50M313.30 497.50H319.20" stroke="#2b2b2b" stroke-width="1.25" fill="none"/>
<rect x="311.50" y="503.00" width="9.5" height="53.00" fill="url(#hr)"/>
<path d="M332.75 496.00V487.50M329.80 487.50H335.70" stroke="#2b2b2b" stroke-width="1.25" fill="none"/>
<rect x="328.00" y="495.50" width="9.5" height="60.50" fill="url(#hb)"/>
<path d="M229.50 476.50V556.00H343.75" stroke="#231f20" stroke-width="1.1" fill="none" stroke-linecap="square"/>
<path d="M226.20 480.00H229.50" stroke="#231f20" stroke-width="1.1"/>
<text x="222.95" y="482.85" font-size="8.5" text-anchor="end" font-weight="normal" fill="#231f20" stroke="#231f20" stroke-width="0.2" letter-spacing="0.45">500</text>
<path d="M226.20 495.20H229.50" stroke="#231f20" stroke-width="1.1"/>
<text x="222.95" y="498.05" font-size="8.5" text-anchor="end" font-weight="normal" fill="#231f20" stroke="#231f20" stroke-width="0.2" letter-spacing="0.45">400</text>
<path d="M226.20 510.40H229.50" stroke="#231f20" stroke-width="1.1"/>
<text x="222.95" y="513.25" font-size="8.5" text-anchor="end" font-weight="normal" fill="#231f20" stroke="#231f20" stroke-width="0.2" letter-spacing="0.45">300</text>
<path d="M226.20 525.60H229.50" stroke="#231f20" stroke-width="1.1"/>
<text x="222.95" y="528.45" font-size="8.5" text-anchor="end" font-weight="normal" fill="#231f20" stroke="#231f20" stroke-width="0.2" letter-spacing="0.45">200</text>
<path d="M226.20 540.80H229.50" stroke="#231f20" stroke-width="1.1"/>
<text x="222.95" y="543.65" font-size="8.5" text-anchor="end" font-weight="normal" fill="#231f20" stroke="#231f20" stroke-width="0.2" letter-spacing="0.45">100</text>
<path d="M226.20 556.00H229.50" stroke="#231f20" stroke-width="1.1"/>
<text x="222.95" y="558.85" font-size="8.5" text-anchor="end" font-weight="normal" fill="#231f20" stroke="#231f20" stroke-width="0.2" letter-spacing="0.45">0</text>
<path d="M256.35 556.00V559.00" stroke="#231f20" stroke-width="1.1"/>
<text x="256.35" y="570.60" font-size="8.5" text-anchor="middle" font-weight="normal" fill="#231f20" stroke="#231f20" stroke-width="0.2" >SAL</text>
<path d="M316.25 556.00V559.00" stroke="#231f20" stroke-width="1.1"/>
<text x="316.25" y="570.60" font-size="8.5" text-anchor="middle" font-weight="normal" fill="#231f20" stroke="#231f20" stroke-width="0.2" >TNF</text>
<text transform="translate(200.20 516.00) rotate(-90)" font-size="9.9" text-anchor="middle" fill="#231f20" textLength="48.0" lengthAdjust="spacingAndGlyphs" stroke="#231f20" stroke-width="0.35">sP-Sel (ng/mL)</text>
<text x="300.20" y="493.80" font-size="7.2" text-anchor="middle" font-weight="bold" fill="#231f20"  stroke="#231f20" stroke-width="0.12" letter-spacing="0.35">***</text>
<text x="316.45" y="493.80" font-size="7.2" text-anchor="middle" font-weight="bold" fill="#231f20"  stroke="#231f20" stroke-width="0.12" letter-spacing="0.35">***</text>
<text x="332.95" y="480.05" font-size="7.2" text-anchor="middle" font-weight="bold" fill="#231f20"  stroke="#231f20" stroke-width="0.12" letter-spacing="0.35">***</text>
<text x="360.95" y="459.25" font-size="12" text-anchor="start" font-weight="bold" fill="#000"  stroke="#000" stroke-width="0.35">J</text>
<path d="M409.00 495.50V493.00M406.25 493.00H411.75" stroke="#2b2b2b" stroke-width="1.25" fill="none"/>
<rect x="404.25" y="495.00" width="9.5" height="61.00" fill="#c7c8ca"/>
<path d="M425.50 494.75V492.25M422.75 492.25H428.25" stroke="#2b2b2b" stroke-width="1.25" fill="none"/>
<rect x="420.75" y="494.25" width="9.5" height="61.75" fill="#c8102e"/>
<path d="M442.00 500.50V497.50M439.25 497.50H444.75" stroke="#2b2b2b" stroke-width="1.25" fill="none"/>
<rect x="437.25" y="500.00" width="9.5" height="56.00" fill="#1c4e8a"/>
<path d="M469.00 496.75V492.00M466.05 492.00H471.95" stroke="#2b2b2b" stroke-width="1.25" fill="none"/>
<rect x="464.25" y="496.25" width="9.5" height="59.75" fill="url(#hg)"/>
<path d="M485.25 495.00V489.00M482.30 489.00H488.20" stroke="#2b2b2b" stroke-width="1.25" fill="none"/>
<rect x="480.50" y="494.50" width="9.5" height="61.50" fill="url(#hr)"/>
<path d="M501.75 490.50V486.25M498.80 486.25H504.70" stroke="#2b2b2b" stroke-width="1.25" fill="none"/>
<rect x="497.00" y="490.00" width="9.5" height="66.00" fill="url(#hb)"/>
<path d="M398.20 476.50V556.00H512.00" stroke="#231f20" stroke-width="1.1" fill="none" stroke-linecap="square"/>
<path d="M394.90 480.00H398.20" stroke="#231f20" stroke-width="1.1"/>
<text x="391.65" y="482.85" font-size="8.5" text-anchor="end" font-weight="normal" fill="#231f20" stroke="#231f20" stroke-width="0.2" letter-spacing="0.45">200</text>
<path d="M394.90 499.00H398.20" stroke="#231f20" stroke-width="1.1"/>
<text x="391.65" y="501.85" font-size="8.5" text-anchor="end" font-weight="normal" fill="#231f20" stroke="#231f20" stroke-width="0.2" letter-spacing="0.45">150</text>
<path d="M394.90 518.00H398.20" stroke="#231f20" stroke-width="1.1"/>
<text x="391.65" y="520.85" font-size="8.5" text-anchor="end" font-weight="normal" fill="#231f20" stroke="#231f20" stroke-width="0.2" letter-spacing="0.45">100</text>
<path d="M394.90 537.00H398.20" stroke="#231f20" stroke-width="1.1"/>
<text x="391.65" y="539.85" font-size="8.5" text-anchor="end" font-weight="normal" fill="#231f20" stroke="#231f20" stroke-width="0.2" letter-spacing="0.45">50</text>
<path d="M394.90 556.00H398.20" stroke="#231f20" stroke-width="1.1"/>
<text x="391.65" y="558.85" font-size="8.5" text-anchor="end" font-weight="normal" fill="#231f20" stroke="#231f20" stroke-width="0.2" letter-spacing="0.45">0</text>
<path d="M425.50 556.00V559.00" stroke="#231f20" stroke-width="1.1"/>
<text x="425.50" y="570.60" font-size="8.5" text-anchor="middle" font-weight="normal" fill="#231f20" stroke="#231f20" stroke-width="0.2" >SAL</text>
<path d="M485.25 556.00V559.00" stroke="#231f20" stroke-width="1.1"/>
<text x="485.25" y="570.60" font-size="8.5" text-anchor="middle" font-weight="normal" fill="#231f20" stroke="#231f20" stroke-width="0.2" >TNF</text>
<text transform="translate(369.70 516.25) rotate(-90)" font-size="9.9" text-anchor="middle" fill="#231f20" textLength="42.5" lengthAdjust="spacingAndGlyphs" stroke="#231f20" stroke-width="0.35">PF4 (ng/mL)</text>
<rect x="0.5" y="0.5" width="519" height="579" fill="none" stroke="#4a4a4a" stroke-width="1"/>
</svg></body></html>
